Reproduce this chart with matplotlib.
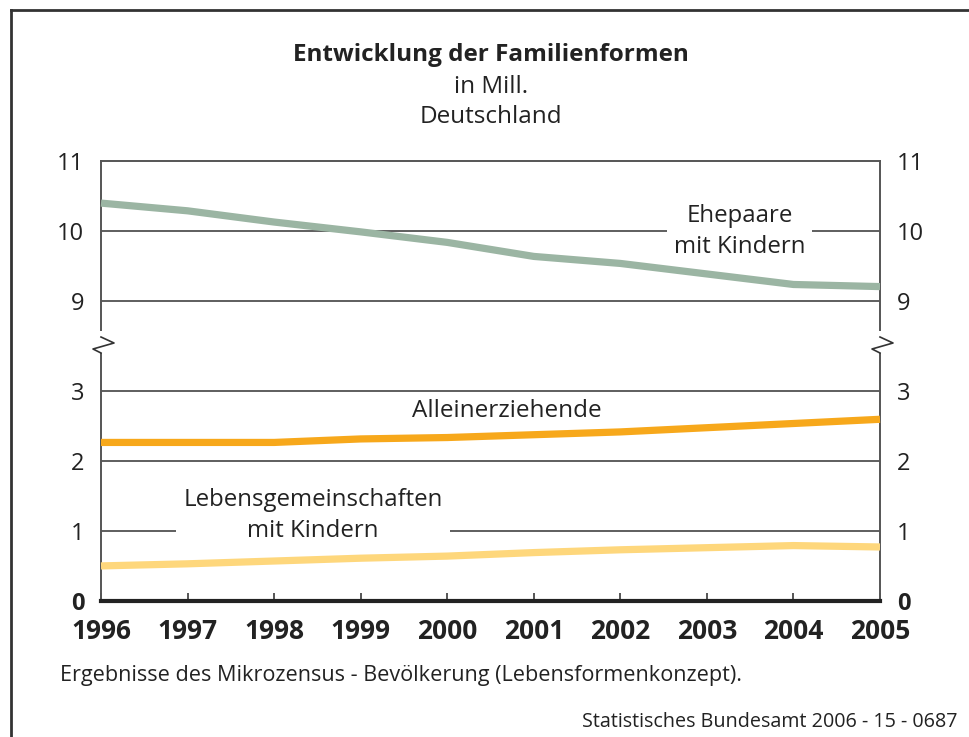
import numpy as np
import matplotlib
matplotlib.use("Agg")
import matplotlib.pyplot as plt
from matplotlib.lines import Line2D
from matplotlib.patches import Rectangle

plt.rcParams['font.family'] = ['Open Sans', 'DejaVu Sans']

years = [1996, 1997, 1998, 1999, 2000, 2001, 2002, 2003, 2004, 2005]
ehepaare = [10.40, 10.29, 10.13, 9.99, 9.84, 9.64, 9.54, 9.39, 9.24, 9.21]
allein = [2.26, 2.26, 2.26, 2.31, 2.33, 2.37, 2.41, 2.47, 2.53, 2.59]
lebensgem = [0.50, 0.53, 0.57, 0.61, 0.64, 0.69, 0.73, 0.76, 0.79, 0.77]
yticks = [0, 1, 2, 3, 9, 10, 11]
ytick_labels = ["0", "1", "2", "3", "9", "10", "11"]

c_ehe = "#9bb5a3"
c_all = "#f7a81b"
c_leb = "#fed77c"
c_grid = "#333333"
c_text = "#222222"

# broken axis: 3..9 squeezed into a short gap
GAP = 89 / 70
K = GAP / 6.0

def fwd(v):
    v = np.asarray(v, dtype=float)
    return np.where(v <= 3, v, np.where(v >= 9, v - 6 + GAP, 3 + (v - 3) * K))

def inv(d):
    d = np.asarray(d, dtype=float)
    return np.where(d <= 3, d, np.where(d >= 3 + GAP, d + 6 - GAP, 3 + (d - 3) / K))

fig = plt.figure(figsize=(9.7, 7.37), dpi=100)
ax = fig.add_axes([101 / 970, 136 / 737, 779 / 970, 440 / 737])
ax.set_yscale('function', functions=(fwd, inv))
ax.set_xlim(1996, 2005)
ax.set_ylim(0, 11)
ax.set_axisbelow(True)

for g in [1, 2, 3, 9, 10]:
    ax.axhline(g, color=c_grid, lw=1.1, zorder=1)

ax.plot(years, ehepaare, color=c_ehe, lw=5.2, solid_capstyle='butt', zorder=4, clip_on=False)
ax.plot(years, allein, color=c_all, lw=5.2, solid_capstyle='butt', zorder=4, clip_on=False)
ax.plot(years, lebensgem, color=c_leb, lw=5.2, solid_capstyle='butt', zorder=4, clip_on=False)

for s in ['left', 'right', 'top']:
    ax.spines[s].set_color("#555555")
    ax.spines[s].set_linewidth(1.4)
ax.spines['bottom'].set_color("#222222")
ax.spines['bottom'].set_linewidth(3)

ax.set_xticks(years)
ax.set_xticklabels([str(y) for y in years], fontsize=19, fontweight='bold', color=c_text)
ax.tick_params(axis='x', direction='in', length=6, width=1.4, color="#555555", pad=12)
ax.set_yticks(yticks)
ax.set_yticklabels(ytick_labels, fontsize=17, color=c_text)
ax.tick_params(axis='y', length=0, pad=12, labelright=True)
for t in ax.yaxis.get_major_ticks():
    t.label2.set_fontsize(17)
    t.label2.set_color(c_text)
    if t.label1.get_text() == "0":
        t.label1.set_fontweight('bold')
        t.label2.set_fontweight('bold')

# break markers on both spines
ytr = ax.get_yaxis_transform()
d_cut = [(601 - 353) / 70.16, (601 - 331) / 70.16]
zz_d = np.array([(601 - 337) / 70.16, (601 - 343) / 70.16, (601 - 349) / 70.16, (601 - 353) / 70.16])
zz_x = np.array([0, 13, -8, 0]) / 779
for x0 in [0, 1]:
    ax.add_patch(Rectangle((x0 - 0.004, float(inv(d_cut[0]))), 0.008,
                           float(inv(d_cut[1]) - inv(d_cut[0])), transform=ytr,
                           facecolor='white', edgecolor='none', clip_on=False, zorder=5))
    ax.add_line(Line2D(x0 + zz_x, inv(zz_d), transform=ytr, color="#333333", lw=1.2,
                       clip_on=False, zorder=6))

# series labels
box = dict(facecolor='white', edgecolor='none', pad=5)
ax.text(2003.38, 10.0, "Ehepaare\nmit Kindern", ha='center', va='center', fontsize=17.3,
        linespacing=1.38, color=c_text, bbox=box, zorder=2)
ax.text(2000.69, 2.71, "Alleinerziehende", ha='center', va='center', fontsize=17.5,
        color=c_text, zorder=2)
ax.text(1998.45, 1.22, "Lebensgemeinschaften\nmit Kindern", ha='center', va='center', fontsize=17.3,
        linespacing=1.38, color=c_text, bbox=box, zorder=2)

# titles and notes
fig.text(491 / 970, 1 - 55 / 737, "Entwicklung der Familienformen", ha='center', va='center',
         fontsize=17.5, fontweight='bold', color=c_text)
fig.text(491 / 970, 1 - 87 / 737, "in Mill.", ha='center', va='center', fontsize=17.5, color=c_text)
fig.text(491 / 970, 1 - 117 / 737, "Deutschland", ha='center', va='center', fontsize=17.5, color=c_text)
fig.text(60 / 970, 1 - 676 / 737, "Ergebnisse des Mikrozensus - Bevölkerung (Lebensformenkonzept).",
         ha='left', va='center', fontsize=15.6, color=c_text)
fig.text(958 / 970, 1 - 722 / 737, "Statistisches Bundesamt 2006 - 15 - 0687",
         ha='right', va='center', fontsize=14.2, color=c_text)

# outer frame
fig.add_artist(Line2D([11 / 970, 11 / 970], [0, 1 - 10 / 737], transform=fig.transFigure,
                      color="#333333", lw=2))
fig.add_artist(Line2D([11 / 970, 1], [1 - 10 / 737, 1 - 10 / 737], transform=fig.transFigure,
                      color="#333333", lw=2))

fig.savefig("out.png", dpi=100)
